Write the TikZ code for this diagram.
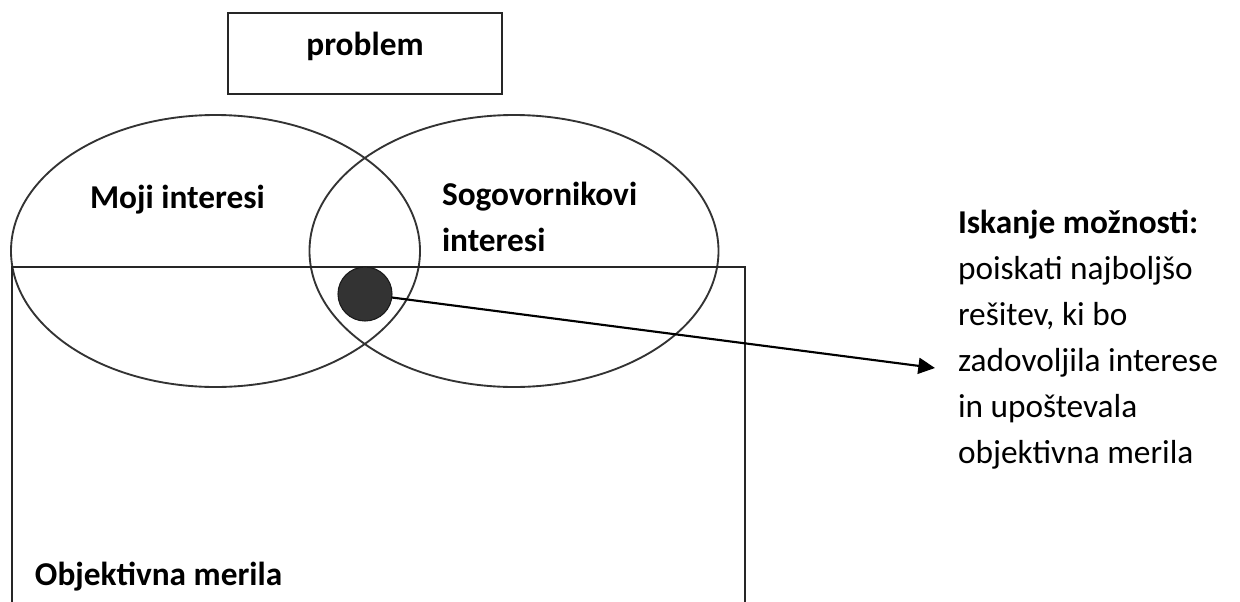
\documentclass[tikz,border=0pt]{standalone}
\usepackage{fontspec}
\setmainfont{Carlito}
\usetikzlibrary{shapes.geometric,arrows.meta}
\begin{document}
\begin{tikzpicture}[x=0.75pt,y=-0.75pt,
  lbl/.style={inner sep=0pt,outer sep=0pt,font=\fontsize{25}{34.5}\selectfont},
  blbl/.style={lbl,font=\fontsize{25}{34.5}\selectfont\bfseries},
  oval/.style={draw=black!80,line width=1.4pt,ellipse,inner sep=0pt,outer sep=0pt,
    minimum width=306.75pt,minimum height=204pt},
  frame/.style={draw=black!85,line width=1.5pt,rectangle,inner sep=0pt,outer sep=0pt}]
\useasboundingbox (0,0) rectangle (1240,601);
\fill[white] (0,0) rectangle (1240,601);
\clip (0,0) rectangle (1240,601);
% problem box
\node[frame,minimum width=205.5pt,minimum height=60.75pt] (prob) at (365,53) {};
\node[blbl,anchor=base] (probtxt) at (365,55) {problem};
% ellipses
\node[oval] (mine) at (215.5,251) {};
\node[oval] (theirs) at (514,251) {};
% objective criteria frame
\node[frame,anchor=north west,minimum width=549.75pt,minimum height=300pt] (crit) at (12,267) {};
% texts
\node[blbl,anchor=base west] (minetxt) at (90,208) {Moji interesi};
\node[blbl,anchor=base west] (theirtxt) at (442,205) {Sogovornikovi};
\node[blbl,anchor=base west] (theirtxt2) at (442,251) {interesi};
\node[blbl,anchor=base west] (crittxt) at (35,585) {Objektivna merila};
% dot
\node[circle,fill=black!80,draw=black!90,line width=0.8pt,minimum size=40.5pt,inner sep=0pt,outer sep=0pt] (dot) at (365,294) {};
% right text
\node[lbl,anchor=base west,align=left] (opt) at (958,463)
  {\textbf{Iskanje možnosti:}\\poiskati najboljšo\\rešitev, ki bo\\zadovoljila interese\\in upoštevala\\objektivna merila};
\coordinate (tip) at (935,368);
\draw[line width=1.6pt,-{Triangle[length=12.5pt,width=12pt]}] (dot) -- (tip);
\end{tikzpicture}
\end{document}
